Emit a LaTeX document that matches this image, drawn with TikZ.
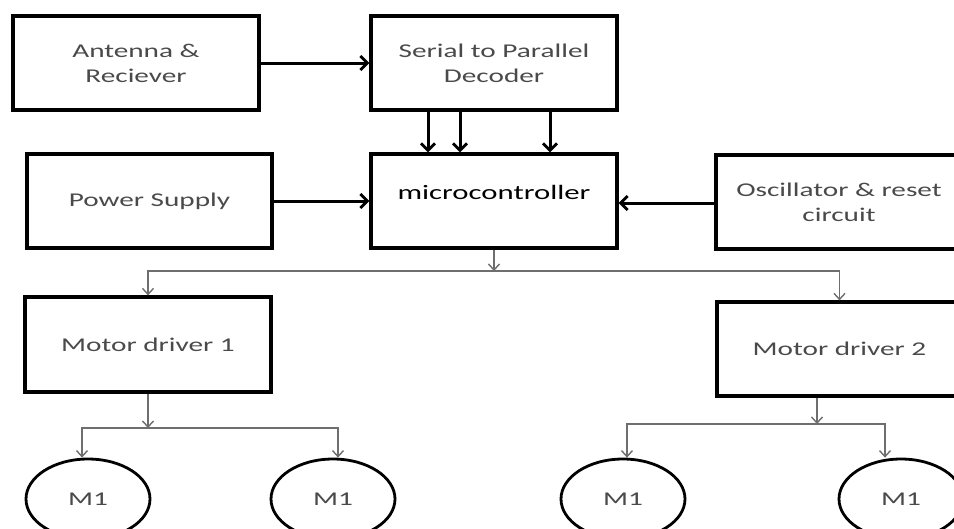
\documentclass[tikz,border=0pt]{standalone}
\usepackage{fontspec}
\setmainfont{Carlito}[FakeStretch=1.5]
\usetikzlibrary{arrows.meta,shapes.geometric}
\definecolor{txtgray}{HTML}{4A4A4A}
\definecolor{linegray}{HTML}{6E6E6E}
\begin{document}
\begin{tikzpicture}[x=1pt,y=-1pt,
  blk/.style={draw=black,line width=3.2pt,rectangle,inner sep=0pt,align=center,
    font=\fontsize{19.5}{25}\selectfont,text=txtgray},
  motor/.style={draw=black,line width=2.8pt,ellipse,minimum width=124pt,minimum height=80pt,
    inner sep=0pt,font=\fontsize{19.5}{25}\selectfont,text=txtgray},
  bigarrow/.style={draw=black,line width=3pt,-{Straight Barb[length=7pt,width=14pt,line width=2.8pt]}},
  thinarrow/.style={draw=linegray,line width=1.5pt,-{Straight Barb[length=6pt,width=11pt,line width=1.4pt]}}
]
\useasboundingbox (0,0) rectangle (954,528);
\clip (0,0) rectangle (954,528);
\fill[white] (0,0) rectangle (954,528);

% boxes
\node[blk,minimum width=246pt,minimum height=94pt] (ant) at (136,63) {Antenna \&\\Reciever};
\node[blk,minimum width=246pt,minimum height=94pt] (ser) at (494,63) {Serial to Parallel\\Decoder};
\node[blk,minimum width=245pt,minimum height=94pt] (pow) at (149.5,201) {Power Supply};
\node[blk,minimum width=246pt,minimum height=94pt,text=black,text depth=18pt,
  font=\fontsize{20.5}{25}\selectfont] (mic) at (494,201) {microcontroller};
\node[blk,minimum width=246pt,minimum height=94pt] (osc) at (839,202) {Oscillator \& reset\\circuit};
\node[blk,minimum width=245pt,minimum height=94pt] (md2) at (839.5,349) {Motor driver 2};
\node[blk,minimum width=246pt,minimum height=95pt] (md1) at (148,344.5) {Motor driver 1};

% motors
\node[motor] (m1) at (88,499) {M1};
\node[motor] (m2) at (333,499) {M1};
\node[motor] (m3) at (623,499) {M1};
\node[motor] (m4) at (901,499) {M1};

% thick connectors
\draw[bigarrow] (ant) -- (ser);
\draw[bigarrow] (pow) -- (mic);
\draw[bigarrow] (osc.west |- 0,203) -- (mic.east |- 0,203);
\foreach \xx in {428,460,550}
  \draw[bigarrow] (ser.south -| \xx,0) -- (mic.north -| \xx,0);

% thin connectors
\coordinate (j1) at (494,271);
\coordinate (j2) at (148,428);
\coordinate (j3) at (817,424);
\draw[thinarrow] (mic.south) -- (j1);
\draw[thinarrow] (j1) -| (md1.north);
\draw[thinarrow] (j1) -| (md2.north);
\draw[thinarrow] (md1.south) -- (j2);
\draw[thinarrow] (md2.south -| j3) -- (j3);
\draw[thinarrow] (j2) -| (m1.north -| 82,0);
\draw[thinarrow] (j2) -| (m2.north -| 338,0);
\draw[thinarrow] (j3) -| (m3.north -| 627,0);
\draw[thinarrow] (j3) -| (m4.north -| 885,0);
\end{tikzpicture}
\end{document}
